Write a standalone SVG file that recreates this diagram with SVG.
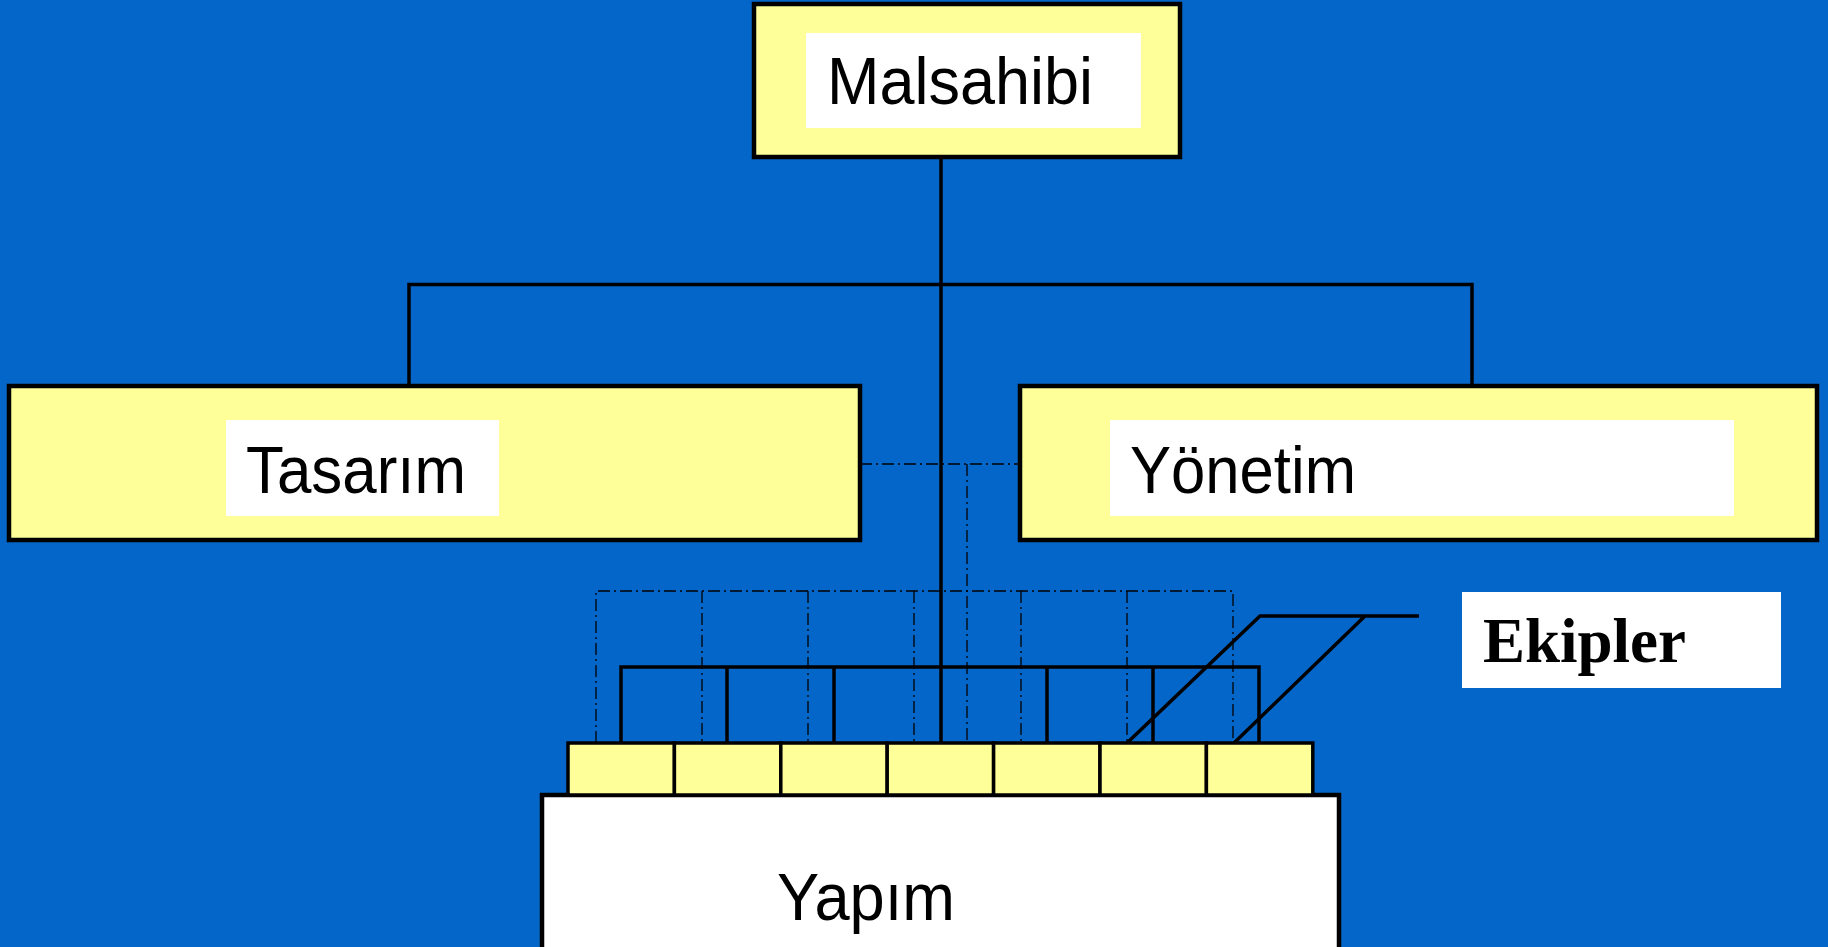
<svg xmlns="http://www.w3.org/2000/svg" width="1828" height="947" viewBox="0 0 1828 947">
<style>
.box{fill:#FFFF99;stroke:#000;stroke-width:4.5}
.cell{fill:#FFFF99;stroke:#000;stroke-width:3.5}
.lbl{fill:#fff}
.t{font-family:"Liberation Sans","DejaVu Sans",sans-serif;font-size:66px;fill:#000}
.s{fill:none;stroke:#000;stroke-width:3.5}
.d{fill:none;stroke:#000;stroke-width:1.3;stroke-dasharray:12 4 2 4}
</style>
<rect x="0" y="0" width="1828" height="947" fill="#0466C8"/>
<g id="connectors">
<path class="s" d="M941,157 V743 M409,386 V284.5 H1472 V386"/>
<path class="d" d="M860,464 H1020 M967,464 V743"/>
<path class="d" d="M596,743 V591 H1233 V743 M702,591 V743 M808,591 V743 M914,591 V743 M1021,591 V743 M1127,591 V743"/>
<path class="s" d="M621,743 V667 H1259 V743 M727,667 V743 M834,667 V743 M1047,667 V743 M1153,667 V743"/>
<path class="s" d="M1127,743 L1260,616 H1419 M1234,743 L1365,616"/>
</g>
<g id="malsahibi">
<rect class="box" x="754" y="4" width="426" height="153"/>
<rect class="lbl" x="806" y="33" width="335" height="95"/>
<text class="t" x="827" y="104" textLength="266" lengthAdjust="spacingAndGlyphs">Malsahibi</text>
</g>
<g id="tasarim">
<rect class="box" x="9" y="386" width="851" height="154"/>
<rect class="lbl" x="226" y="420" width="273" height="96"/>
<text class="t" x="246" y="493" textLength="220" lengthAdjust="spacingAndGlyphs">Tasarım</text>
</g>
<g id="yonetim">
<rect class="box" x="1020" y="386" width="797" height="154"/>
<rect class="lbl" x="1110" y="420" width="624" height="96"/>
<text class="t" x="1130" y="493" textLength="226" lengthAdjust="spacingAndGlyphs">Yönetim</text>
</g>
<g id="yapim">
<rect x="542" y="795" width="797" height="160" fill="#fff" stroke="#000" stroke-width="4.5"/>
<text class="t" x="777" y="920" textLength="178" lengthAdjust="spacingAndGlyphs">Yapım</text>
</g>
<g id="ekipler-cells">
<rect class="cell" x="568" y="743" width="106.4" height="52"/>
<rect class="cell" x="674.4" y="743" width="106.4" height="52"/>
<rect class="cell" x="780.8" y="743" width="106.4" height="52"/>
<rect class="cell" x="887.2" y="743" width="106.4" height="52"/>
<rect class="cell" x="993.6" y="743" width="106.4" height="52"/>
<rect class="cell" x="1100" y="743" width="106.4" height="52"/>
<rect class="cell" x="1206.4" y="743" width="106.4" height="52"/>
</g>
<g id="ekipler">
<rect class="lbl" x="1462" y="592" width="319" height="96"/>
<text x="1483" y="662" font-family="'Liberation Serif','DejaVu Serif',serif" font-weight="bold" font-size="63" fill="#000">Ekipler</text>
</g>
</svg>
